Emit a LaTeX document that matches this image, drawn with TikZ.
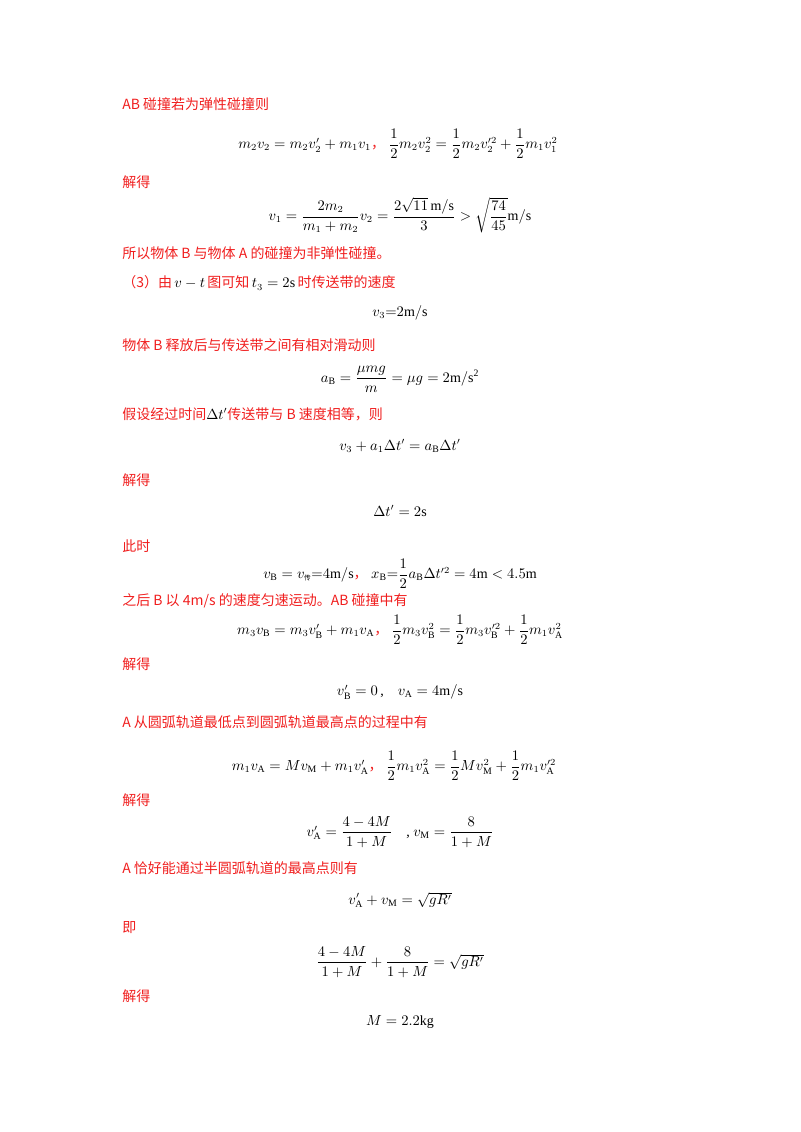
\documentclass[tikz,border=0pt]{standalone}
\usepackage{fontspec}
\usepackage{amsmath}
\setmainfont{Liberation Serif}
\newfontfamily\cjk{Noto Sans CJK SC}
\definecolor{rd}{RGB}{240,30,30}
\newcommand{\R}[1]{{\color{rd}\cjk #1}}
\begin{document}
\begin{tikzpicture}[x=0.75pt,y=-0.75pt,
  lt/.style={anchor=west,inner sep=0pt,font=\fontsize{10.5}{12}\selectfont,text=rd},
  eq/.style={anchor=center,inner sep=0pt,font=\fontsize{10.5}{12}\selectfont}]
\useasboundingbox (0,0) rectangle (800,1132);
\node[lt] (t1) at (122,104) {\R{AB 碰撞若为弹性碰撞则}};
\node[eq] (e1) at (398,144) {$m_2v_2=m_2v_2'+m_1v_1$\R{，}\ $\dfrac12m_2v_2^2=\dfrac12m_2v_2'^2+\dfrac12m_1v_1^2$};
\node[lt] (t2) at (122,182) {\R{解得}};
\node[eq] (e2) at (400,215) {$v_1=\dfrac{2m_2}{m_1+m_2}v_2=\dfrac{2\sqrt{11}\,\mathrm{m/s}}{3}>\sqrt{\dfrac{74}{45}}\mathrm{m/s}$};
\node[lt] (t3) at (122,253) {\R{所以物体 B 与物体 A 的碰撞为非弹性碰撞。}};
\node[lt] (t4) at (122,283) {\R{（3）由}\,{\color{black}$v-t$}\,\R{图可知}\,{\color{black}$t_3=2\mathrm{s}$}\,\R{时传送带的速度}};
\node[eq] (e3) at (400,313) {$v_3{=}2\mathrm{m/s}$};
\node[lt] (t5) at (122,345) {\R{物体 B 释放后与传送带之间有相对滑动则}};
\node[eq] (e4) at (400,379) {$a_{\mathrm B}=\dfrac{\mu mg}{m}=\mu g=2\mathrm{m/s^2}$};
\node[lt] (t6) at (122,414) {\R{假设经过时间}{\color{black}$\Delta t'$}\R{传送带与 B 速度相等，则}};
\node[eq] (e5) at (400,446) {$v_3+a_1\Delta t'=a_{\mathrm B}\Delta t'$};
\node[lt] (t7) at (122,480) {\R{解得}};
\node[eq] (e6) at (400,511) {$\Delta t'=2\mathrm{s}$};
\node[lt] (t8) at (122,546) {\R{此时}};
\node[eq] (e7) at (400,574) {$v_{\mathrm B}=v_{\text{\cjk\tiny 传}}{=}4\mathrm{m/s}$\R{，}\ $x_{\mathrm B}{=}\dfrac12a_{\mathrm B}\Delta t'^2=4\mathrm{m}<4.5\mathrm{m}$};
\node[lt] (t9) at (122,601) {\R{之后 B 以 4m/s 的速度匀速运动。AB 碰撞中有}};
\node[eq] (e8) at (400,630) {$m_3v_{\mathrm B}=m_3v_{\mathrm B}'+m_1v_{\mathrm A}$\R{，}\ $\dfrac12m_3v_{\mathrm B}^2=\dfrac12m_3v_{\mathrm B}'^2+\dfrac12m_1v_{\mathrm A}^2$};
\node[lt] (t10) at (122,664) {\R{解得}};
\node[eq] (e9) at (400,692) {$v_{\mathrm B}'=0$\,,\quad $v_{\mathrm A}=4\mathrm{m/s}$};
\node[lt] (t11) at (122,722) {\R{A 从圆弧轨道最低点到圆弧轨道最高点的过程中有}};
\node[eq] (e10) at (394,766) {$m_1v_{\mathrm A}=Mv_{\mathrm M}+m_1v_{\mathrm A}'$\R{，}\ $\dfrac12m_1v_{\mathrm A}^2=\dfrac12Mv_{\mathrm M}^2+\dfrac12m_1v_{\mathrm A}'^2$};
\node[lt] (t12) at (122,800) {\R{解得}};
\node[eq] (e11) at (400,832) {$v_{\mathrm A}'=\dfrac{4-4M}{1+M}$\quad,\ $v_{\mathrm M}=\dfrac{8}{1+M}$};
\node[lt] (t13) at (122,868) {\R{A 恰好能通过半圆弧轨道的最高点则有}};
\node[eq] (e12) at (400,900) {$v_{\mathrm A}'+v_{\mathrm M}=\sqrt{gR'}$};
\node[lt] (t14) at (122,928) {\R{即}};
\node[eq] (e13) at (400,962) {$\dfrac{4-4M}{1+M}+\dfrac{8}{1+M}=\sqrt{gR'}$};
\node[lt] (t15) at (122,996) {\R{解得}};
\node[eq] (e14) at (400,1022) {$M=2.2\mathrm{kg}$};
\end{tikzpicture}
\end{document}
